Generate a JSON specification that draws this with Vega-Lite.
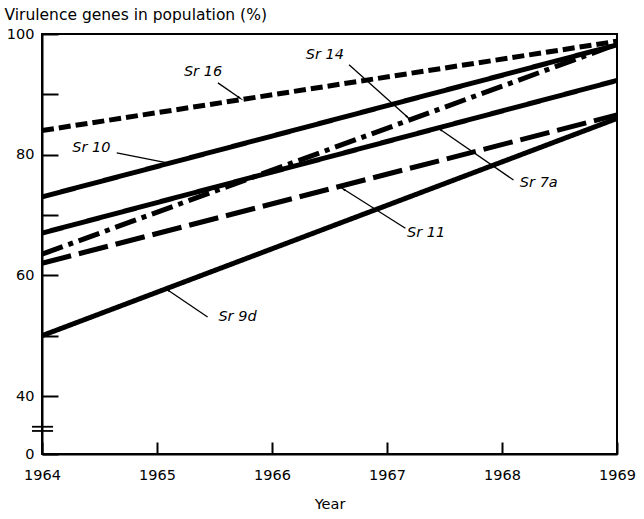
{
  "$schema": "https://vega.github.io/schema/vega-lite/v6.json",
  "width": 575,
  "height": 420,
  "autosize": "none",
  "padding": {"left": 42, "top": 34, "right": 27, "bottom": 65},
  "background": "white",
  "config": {
    "view": {"stroke": "black", "strokeWidth": 2},
    "font": "DejaVu Sans",
    "axis": {"grid": false, "domainColor": "black", "domainWidth": 2, "tickColor": "black", "tickWidth": 2, "labelColor": "black", "titleColor": "black", "labelFont": "DejaVu Sans", "titleFont": "DejaVu Sans", "titleFontWeight": "normal"}
  },
  "datasets": {
    "lines": [
      {"gene": "Sr 16", "year": 1964, "value": 84},
      {"gene": "Sr 16", "year": 1969, "value": 98.8},
      {"gene": "Sr 10", "year": 1964, "value": 73},
      {"gene": "Sr 10", "year": 1969, "value": 98.2},
      {"gene": "Sr 7a", "year": 1964, "value": 67},
      {"gene": "Sr 7a", "year": 1969, "value": 92.3},
      {"gene": "Sr 14", "year": 1964, "value": 63.5},
      {"gene": "Sr 14", "year": 1969, "value": 98.3},
      {"gene": "Sr 11", "year": 1964, "value": 62},
      {"gene": "Sr 11", "year": 1969, "value": 86.6},
      {"gene": "Sr 9d", "year": 1964, "value": 50},
      {"gene": "Sr 9d", "year": 1969, "value": 86}
    ],
    "leaders": [
      {"gene": "Sr 16", "year": 1965.53, "value": 91.9, "year2": 1965.72, "value2": 89.4, "angle": 124},
      {"gene": "Sr 14", "year": 1966.67, "value": 94.9, "year2": 1967.18, "value2": 86.2, "angle": 131},
      {"gene": "Sr 10", "year": 1964.65, "value": 80.3, "year2": 1965.10, "value2": 78.6, "angle": 101},
      {"gene": "Sr 7a", "year": 1968.10, "value": 75.8, "year2": 1967.46, "value2": 84.2, "angle": 303},
      {"gene": "Sr 11", "year": 1967.16, "value": 67.8, "year2": 1966.62, "value2": 74.3, "angle": 301},
      {"gene": "Sr 9d", "year": 1965.44, "value": 53.1, "year2": 1965.09, "value2": 57.6, "angle": 300}
    ],
    "labels": [
      {"label": "Sr 16", "year": 1965.40, "value": 93.7},
      {"label": "Sr 14", "year": 1966.46, "value": 96.5},
      {"label": "Sr 10", "year": 1964.43, "value": 81.1},
      {"label": "Sr 7a", "year": 1968.32, "value": 75.3},
      {"label": "Sr 11", "year": 1967.34, "value": 67.0},
      {"label": "Sr 9d", "year": 1965.70, "value": 53.1}
    ],
    "breaks": [
      {"year": 1963.913, "year2": 1964.096, "value": 18.8},
      {"year": 1963.913, "year2": 1964.096, "value": 15.9}
    ]
  },
  "layer": [
    {
      "data": {"name": "lines"},
      "mark": {"type": "line", "strokeWidth": 5, "color": "black", "strokeCap": "butt"},
      "encoding": {
        "x": {
          "field": "year", "type": "quantitative",
          "scale": {"domain": [1964, 1969], "nice": false, "zero": false},
          "axis": {
            "title": "Year", "values": [1964, 1965, 1966, 1967, 1968, 1969],
            "format": "d", "tickSize": -12, "labelPadding": 26, "labelFontSize": 14.5,
            "labelFlush": false, "titleFontSize": 14.5, "titlePadding": 16
          }
        },
        "y": {
          "field": "value", "type": "quantitative",
          "scale": {"domain": [0, 40, 100], "range": [420, 362, 0], "nice": false, "zero": false},
          "axis": {
            "title": "Virulence genes in population (%)",
            "values": [0, 40, 50, 60, 70, 80, 90, 100],
            "labelExpr": "datum.value == 50 || datum.value == 70 || datum.value == 90 ? '' : datum.label",
            "tickSize": -16, "labelPadding": 24, "labelFontSize": 14.5, "labelFlush": false,
            "titleAngle": 0, "titleAlign": "left", "titleBaseline": "middle",
            "titleX": -38, "titleY": -20, "titleFontSize": 15.5
          }
        },
        "detail": {"field": "gene"},
        "strokeDash": {
          "field": "gene", "type": "nominal", "legend": null,
          "scale": {
            "domain": ["Sr 16", "Sr 10", "Sr 7a", "Sr 14", "Sr 11", "Sr 9d"],
            "range": [[12, 5], [1, 0], [1, 0], [22, 6, 5, 6], [30, 8], [1, 0]]
          }
        }
      }
    },
    {
      "data": {"name": "leaders"},
      "mark": {"type": "rule", "strokeWidth": 1.3, "color": "black"},
      "encoding": {
        "x": {"field": "year", "type": "quantitative"},
        "y": {"field": "value", "type": "quantitative"},
        "x2": {"field": "year2"},
        "y2": {"field": "value2"}
      }
    },
    {
      "data": {"name": "leaders"},
      "mark": {"type": "point", "shape": "wedge", "filled": true, "color": "black", "size": 70, "opacity": 1},
      "encoding": {
        "x": {"field": "year2", "type": "quantitative"},
        "y": {"field": "value2", "type": "quantitative"},
        "angle": {"field": "angle", "type": "quantitative", "scale": null}
      }
    },
    {
      "data": {"name": "labels"},
      "mark": {"type": "text", "fontStyle": "italic", "fontSize": 14.5, "color": "black", "align": "center", "baseline": "middle", "font": "DejaVu Sans"},
      "encoding": {
        "x": {"field": "year", "type": "quantitative"},
        "y": {"field": "value", "type": "quantitative"},
        "text": {"field": "label"}
      }
    },
    {
      "data": {"name": "breaks"},
      "mark": {"type": "rule", "strokeWidth": 1.8, "color": "black", "clip": false},
      "encoding": {
        "x": {"field": "year", "type": "quantitative"},
        "x2": {"field": "year2"},
        "y": {"field": "value", "type": "quantitative"}
      }
    }
  ]
}
